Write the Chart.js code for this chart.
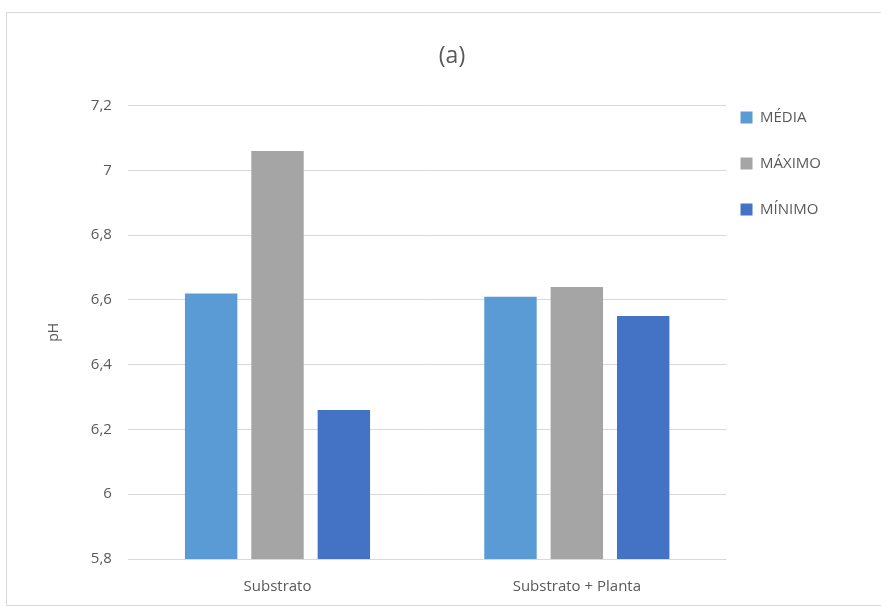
<!DOCTYPE html>
<html>
<head>
<meta charset="utf-8">
<script src="https://cdn.jsdelivr.net/npm/chart.js@4.4.1/dist/chart.umd.min.js"></script>
<style>
  body { margin: 0; background: #fff; }
  #box {
    position: absolute; left: 6px; top: 12px;
    width: 874px; height: 592px;
    border: 1px solid #d9d9d9; border-right: none; background: #fff;
  }
</style>
</head>
<body>
<div id="box"><canvas id="phChart"></canvas></div>
<script>
const categories = ["Substrato", "Substrato + Planta"];
const media = [6.62, 6.61];
const maximo = [7.06, 6.64];
const minimo = [6.26, 6.55];
const yTicks = [5.8, 6, 6.2, 6.4, 6.6, 6.8, 7, 7.2];

const ctx = document.getElementById("phChart").getContext("2d");
const fontFamily = "'Open Sans', sans-serif";

// nudge legend closer to the plot and title a bit right, like the Excel original
const nudgeBoxes = {
  id: "nudgeBoxes",
  afterLayout(chart) {
    chart.legend.left -= 17;
    chart.legend.right -= 17;
    chart.titleBlock.left += 7;
    chart.titleBlock.right += 7;
  }
};

const phChart = new Chart(ctx, {
  type: "bar",
  data: {
    labels: categories,
    datasets: [
      { label: "MÉDIA", data: media, backgroundColor: "#5B9BD5" },
      { label: "MÁXIMO", data: maximo, backgroundColor: "#A5A5A5" },
      { label: "MÍNIMO", data: minimo, backgroundColor: "#4472C4" }
    ]
  },
  options: {
    responsive: true,
    maintainAspectRatio: false,
    animation: false,
    categoryPercentage: 0.665,
    barPercentage: 0.79,
    layout: { padding: { left: 35, right: 33, top: 10, bottom: -10 } },
    scales: {
      y: {
        min: yTicks[0],
        max: yTicks[yTicks.length - 1],
        afterBuildTicks: function (axis) {
          axis.ticks = yTicks.map(v => ({ value: v }));
        },
        grid: { color: "#d9d9d9", drawTicks: false },
        border: { display: false },
        ticks: {
          padding: 16,
          color: "#595959",
          font: { size: 15, family: fontFamily },
          callback: function (value) {
            return Number(value.toFixed(1)).toString().replace(".", ",");
          }
        },
        title: {
          display: true,
          text: "pH",
          color: "#595959",
          font: { size: 14, family: fontFamily },
          padding: { bottom: 12 }
        }
      },
      x: {
        grid: { display: false, drawTicks: false },
        border: { display: false },
        ticks: {
          padding: 19,
          color: "#595959",
          font: { size: 15, family: fontFamily }
        }
      }
    },
    plugins: {
      legend: {
        position: "right",
        align: "start",
        title: {
          display: true,
          text: " ",
          font: { size: 10 },
          padding: { top: 44, bottom: 0 }
        },
        labels: {
          boxWidth: 12,
          boxHeight: 12,
          padding: 31,
          color: "#595959",
          font: { size: 15, family: fontFamily }
        }
      },
      title: {
        display: true,
        text: "(a)",
        color: "#595959",
        font: { size: 23, weight: "normal", family: fontFamily },
        padding: { top: 20, bottom: 35 }
      },
      tooltip: { enabled: false }
    }
  },
  plugins: [nudgeBoxes]
});
</script>
</body>
</html>
